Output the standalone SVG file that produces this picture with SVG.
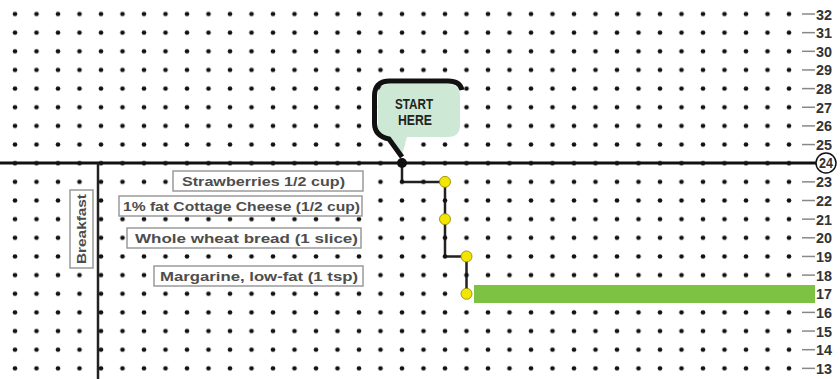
<svg xmlns="http://www.w3.org/2000/svg" width="840" height="379" viewBox="0 0 840 379">
<defs>
<pattern id="dots" x="4.25" y="4.675" width="21.5" height="18.65" patternUnits="userSpaceOnUse">
<circle cx="10.75" cy="9.325" r="2.3" fill="#111"/>
</pattern>
<style>
.lbl{fill:#fff;stroke:#9a9a9a;stroke-width:1.5}
.lt{font-family:"Liberation Sans",Arial,sans-serif;font-size:13px;font-weight:bold;fill:#4d4d4d}
.num{font-family:"Liberation Sans",Arial,sans-serif;font-size:14.5px;font-weight:bold;fill:#333}
.tick{stroke:#888;stroke-width:1.5}
.yel{fill:#f2e600;stroke:#8a8000;stroke-width:0.8}
</style>
</defs>
<rect width="840" height="379" fill="#fff"/>
<g id="connectors" fill="none" stroke-linejoin="miter">
<line x1="0" y1="163" x2="816" y2="163" stroke="#111" stroke-width="3"/>
<line x1="98" y1="163" x2="98" y2="379" stroke="#222" stroke-width="2.5"/>
<path d="M402 163 V182 H445 V256.5 H466.5 V293.8" stroke="#222" stroke-width="2.5"/>
</g>
<rect id="grid" x="4.25" y="4.675" width="795.5" height="373" fill="url(#dots)"/>
<g id="axis">
<g class="tick">
<line x1="802" y1="14" x2="815" y2="14"/><line x1="802" y1="32.65" x2="815" y2="32.65"/><line x1="802" y1="51.3" x2="815" y2="51.3"/><line x1="802" y1="69.95" x2="815" y2="69.95"/><line x1="802" y1="88.6" x2="815" y2="88.6"/><line x1="802" y1="107.25" x2="815" y2="107.25"/><line x1="802" y1="125.9" x2="815" y2="125.9"/><line x1="802" y1="144.55" x2="815" y2="144.55"/><line x1="802" y1="181.85" x2="815" y2="181.85"/><line x1="802" y1="200.5" x2="815" y2="200.5"/><line x1="802" y1="219.15" x2="815" y2="219.15"/><line x1="802" y1="237.8" x2="815" y2="237.8"/><line x1="802" y1="256.45" x2="815" y2="256.45"/><line x1="802" y1="275.1" x2="815" y2="275.1"/><line x1="802" y1="312.4" x2="815" y2="312.4"/><line x1="802" y1="331.05" x2="815" y2="331.05"/><line x1="802" y1="349.7" x2="815" y2="349.7"/><line x1="802" y1="368.35" x2="815" y2="368.35"/>
</g>
<circle cx="826" cy="163" r="10" fill="#fff" stroke="#111" stroke-width="1.5"/>
<g class="num">
<text x="816" y="19.5" textLength="16" lengthAdjust="spacingAndGlyphs">32</text>
<text x="816" y="38.15" textLength="16" lengthAdjust="spacingAndGlyphs">31</text>
<text x="816" y="56.8" textLength="16" lengthAdjust="spacingAndGlyphs">30</text>
<text x="816" y="75.45" textLength="16" lengthAdjust="spacingAndGlyphs">29</text>
<text x="816" y="94.1" textLength="16" lengthAdjust="spacingAndGlyphs">28</text>
<text x="816" y="112.75" textLength="16" lengthAdjust="spacingAndGlyphs">27</text>
<text x="816" y="131.4" textLength="16" lengthAdjust="spacingAndGlyphs">26</text>
<text x="816" y="150.05" textLength="16" lengthAdjust="spacingAndGlyphs">25</text>
<text x="819" y="168" textLength="14" lengthAdjust="spacingAndGlyphs">24</text>
<text x="816" y="187.35" textLength="16" lengthAdjust="spacingAndGlyphs">23</text>
<text x="816" y="206" textLength="16" lengthAdjust="spacingAndGlyphs">22</text>
<text x="816" y="224.65" textLength="16" lengthAdjust="spacingAndGlyphs">21</text>
<text x="816" y="243.3" textLength="16" lengthAdjust="spacingAndGlyphs">20</text>
<text x="816" y="261.95" textLength="16" lengthAdjust="spacingAndGlyphs">19</text>
<text x="816" y="280.6" textLength="16" lengthAdjust="spacingAndGlyphs">18</text>
<text x="816" y="299.25" textLength="16" lengthAdjust="spacingAndGlyphs">17</text>
<text x="816" y="317.9" textLength="16" lengthAdjust="spacingAndGlyphs">16</text>
<text x="816" y="336.55" textLength="16" lengthAdjust="spacingAndGlyphs">15</text>
<text x="816" y="355.2" textLength="16" lengthAdjust="spacingAndGlyphs">14</text>
<text x="816" y="373.85" textLength="16" lengthAdjust="spacingAndGlyphs">13</text>
</g>
</g>
<g id="breakfast">
<rect class="lbl" x="70" y="190" width="23" height="78"/>
<text class="lt" transform="translate(86,229) rotate(-90)" x="0" y="0" text-anchor="middle" textLength="70" lengthAdjust="spacingAndGlyphs">Breakfast</text>
</g>
<g id="strawberries">
<rect class="lbl" x="173" y="171" width="190" height="20"/>
<text class="lt" x="182" y="185.5" textLength="163" lengthAdjust="spacingAndGlyphs">Strawberries 1/2 cup)</text>
</g>
<g id="cottage">
<rect class="lbl" x="119" y="196" width="243" height="20"/>
<text class="lt" x="123" y="210.5" textLength="237" lengthAdjust="spacingAndGlyphs">1% fat Cottage Cheese (1/2 cup)</text>
</g>
<g id="bread">
<rect class="lbl" x="127" y="228" width="234" height="20"/>
<text class="lt" x="135" y="242.5" textLength="223" lengthAdjust="spacingAndGlyphs">Whole wheat bread (1 slice)</text>
</g>
<g id="margarine">
<rect class="lbl" x="154" y="266" width="209" height="20"/>
<text class="lt" x="160" y="281" textLength="198" lengthAdjust="spacingAndGlyphs">Margarine, low-fat (1 tsp)</text>
</g>
<g id="start-here">
<path d="M390 137 L402 155 L407 137 L448 137 Q460 137 460 125 L460 96 Q460 84 448 84 L390 84 Q378 84 378 96 L378 125 Q378 137 390 137 Z" fill="#cde9d6"/>
<path d="M402 157 L389 139 Q374.5 136 374.5 123 L374.5 96 Q374.5 81 390 81 L448 81 Q460 81 462 90" fill="none" stroke="#111" stroke-width="5"/>
<text x="414" y="108.5" text-anchor="middle" font-family="'Liberation Sans',Arial,sans-serif" font-size="14" font-weight="bold" fill="#222" textLength="38" lengthAdjust="spacingAndGlyphs">START</text>
<text x="415" y="125" text-anchor="middle" font-family="'Liberation Sans',Arial,sans-serif" font-size="14" font-weight="bold" fill="#222" textLength="34" lengthAdjust="spacingAndGlyphs">HERE</text>
</g>
<g id="bar-17">
<rect x="474" y="285" width="341" height="18" fill="#7dc242"/>
</g>
<g id="points">
<circle cx="402" cy="163" r="5" fill="#111"/>
<circle class="yel" cx="445" cy="181.85" r="5.5"/>
<circle class="yel" cx="445" cy="219.15" r="5.5"/>
<circle class="yel" cx="466.5" cy="256.45" r="5.5"/>
<circle class="yel" cx="466.5" cy="293.8" r="5.5"/>
</g>
</svg>
